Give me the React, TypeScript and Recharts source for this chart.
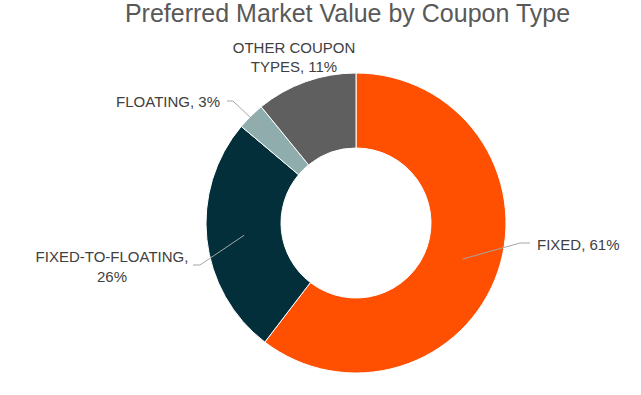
import { PieChart, Pie, Cell } from 'recharts'

const couponTypes = ['FIXED', 'FIXED-TO-FLOATING', 'FLOATING', 'OTHER COUPON TYPES']
const marketShare = [61, 26, 3, 11]
const sliceColors = ['#FE5000', '#022F3A', '#8FADAD', '#5F5F5F']

const chartData = couponTypes.map((name, i) => ({ name, value: marketShare[i] }))

const RADIAN = Math.PI / 180

// label placement, offsets from the pie centre (Excel-style leader lines)
const labelLayout: Record<
  string,
  { elbow?: [number, number]; end?: [number, number]; x: number; anchor: 'start' | 'middle' | 'end'; lines: (v: number) => string[]; y: number[] }
> = {
  FIXED: { elbow: [164, 20], end: [174, 20], x: 181, anchor: 'start', lines: (v) => [`FIXED, ${v}%`], y: [27] },
  'FIXED-TO-FLOATING': {
    elbow: [-156, 42],
    end: [-163, 42],
    x: -244,
    anchor: 'middle',
    lines: (v) => ['FIXED-TO-FLOATING,', `${v}%`],
    y: [39, 59],
  },
  FLOATING: { elbow: [-123, -122], end: [-129, -122], x: -136, anchor: 'end', lines: (v) => [`FLOATING, ${v}%`], y: [-116] },
  'OTHER COUPON TYPES': { x: -62, anchor: 'middle', lines: (v) => ['OTHER COUPON', `TYPES, ${v}%`], y: [-170, -151] },
}

function renderLabel(props: any) {
  const { cx, cy, midAngle, innerRadius, outerRadius, name, value } = props
  const layout = labelLayout[name]
  if (!layout) return null
  const r = (innerRadius + outerRadius) / 2
  const sx = cx + r * Math.cos(-midAngle * RADIAN)
  const sy = cy + r * Math.sin(-midAngle * RADIAN)
  return (
    <g>
      {layout.elbow && layout.end && (
        <polyline
          points={`${sx},${sy} ${cx + layout.elbow[0]},${cy + layout.elbow[1]} ${cx + layout.end[0]},${cy + layout.end[1]}`}
          fill="none"
          stroke="#A6A6A6"
          strokeWidth={1}
        />
      )}
      {layout.lines(value).map((line, i) => (
        <text
          key={i}
          x={cx + layout.x}
          y={cy + layout.y[i]}
          textAnchor={layout.anchor}
          fill="#404040"
          fontSize={15}
          fontFamily="'Liberation Sans', Arial, sans-serif"
        >
          {line}
        </text>
      ))}
    </g>
  )
}

export default function App() {
  return (
    <div style={{ position: 'absolute', left: 0, top: 0, width: 641, height: 395, background: '#fff' }}>
      <div
        style={{
          position: 'absolute',
          left: 0,
          top: 1,
          width: 695,
          textAlign: 'center',
          fontFamily: "'Liberation Sans', Arial, sans-serif",
          fontSize: 25,
          lineHeight: '25px',
          color: '#595959',
        }}
      >
        Preferred Market Value by Coupon Type
      </div>
      <PieChart
        width={641}
        height={395}
        margin={{ top: 0, right: 0, bottom: 0, left: 0 }}
        style={{ position: 'absolute', left: 0, top: 0 }}
      >
        <Pie
          data={chartData}
          dataKey="value"
          nameKey="name"
          cx={356}
          cy={223}
          innerRadius={75}
          outerRadius={150}
          startAngle={90}
          endAngle={-270}
          stroke="#fff"
          strokeWidth={1}
          label={renderLabel}
          labelLine={false}
          isAnimationActive={false}
        >
          {chartData.map((d, i) => (
            <Cell key={d.name} fill={sliceColors[i]} />
          ))}
        </Pie>
      </PieChart>
    </div>
  )
}
